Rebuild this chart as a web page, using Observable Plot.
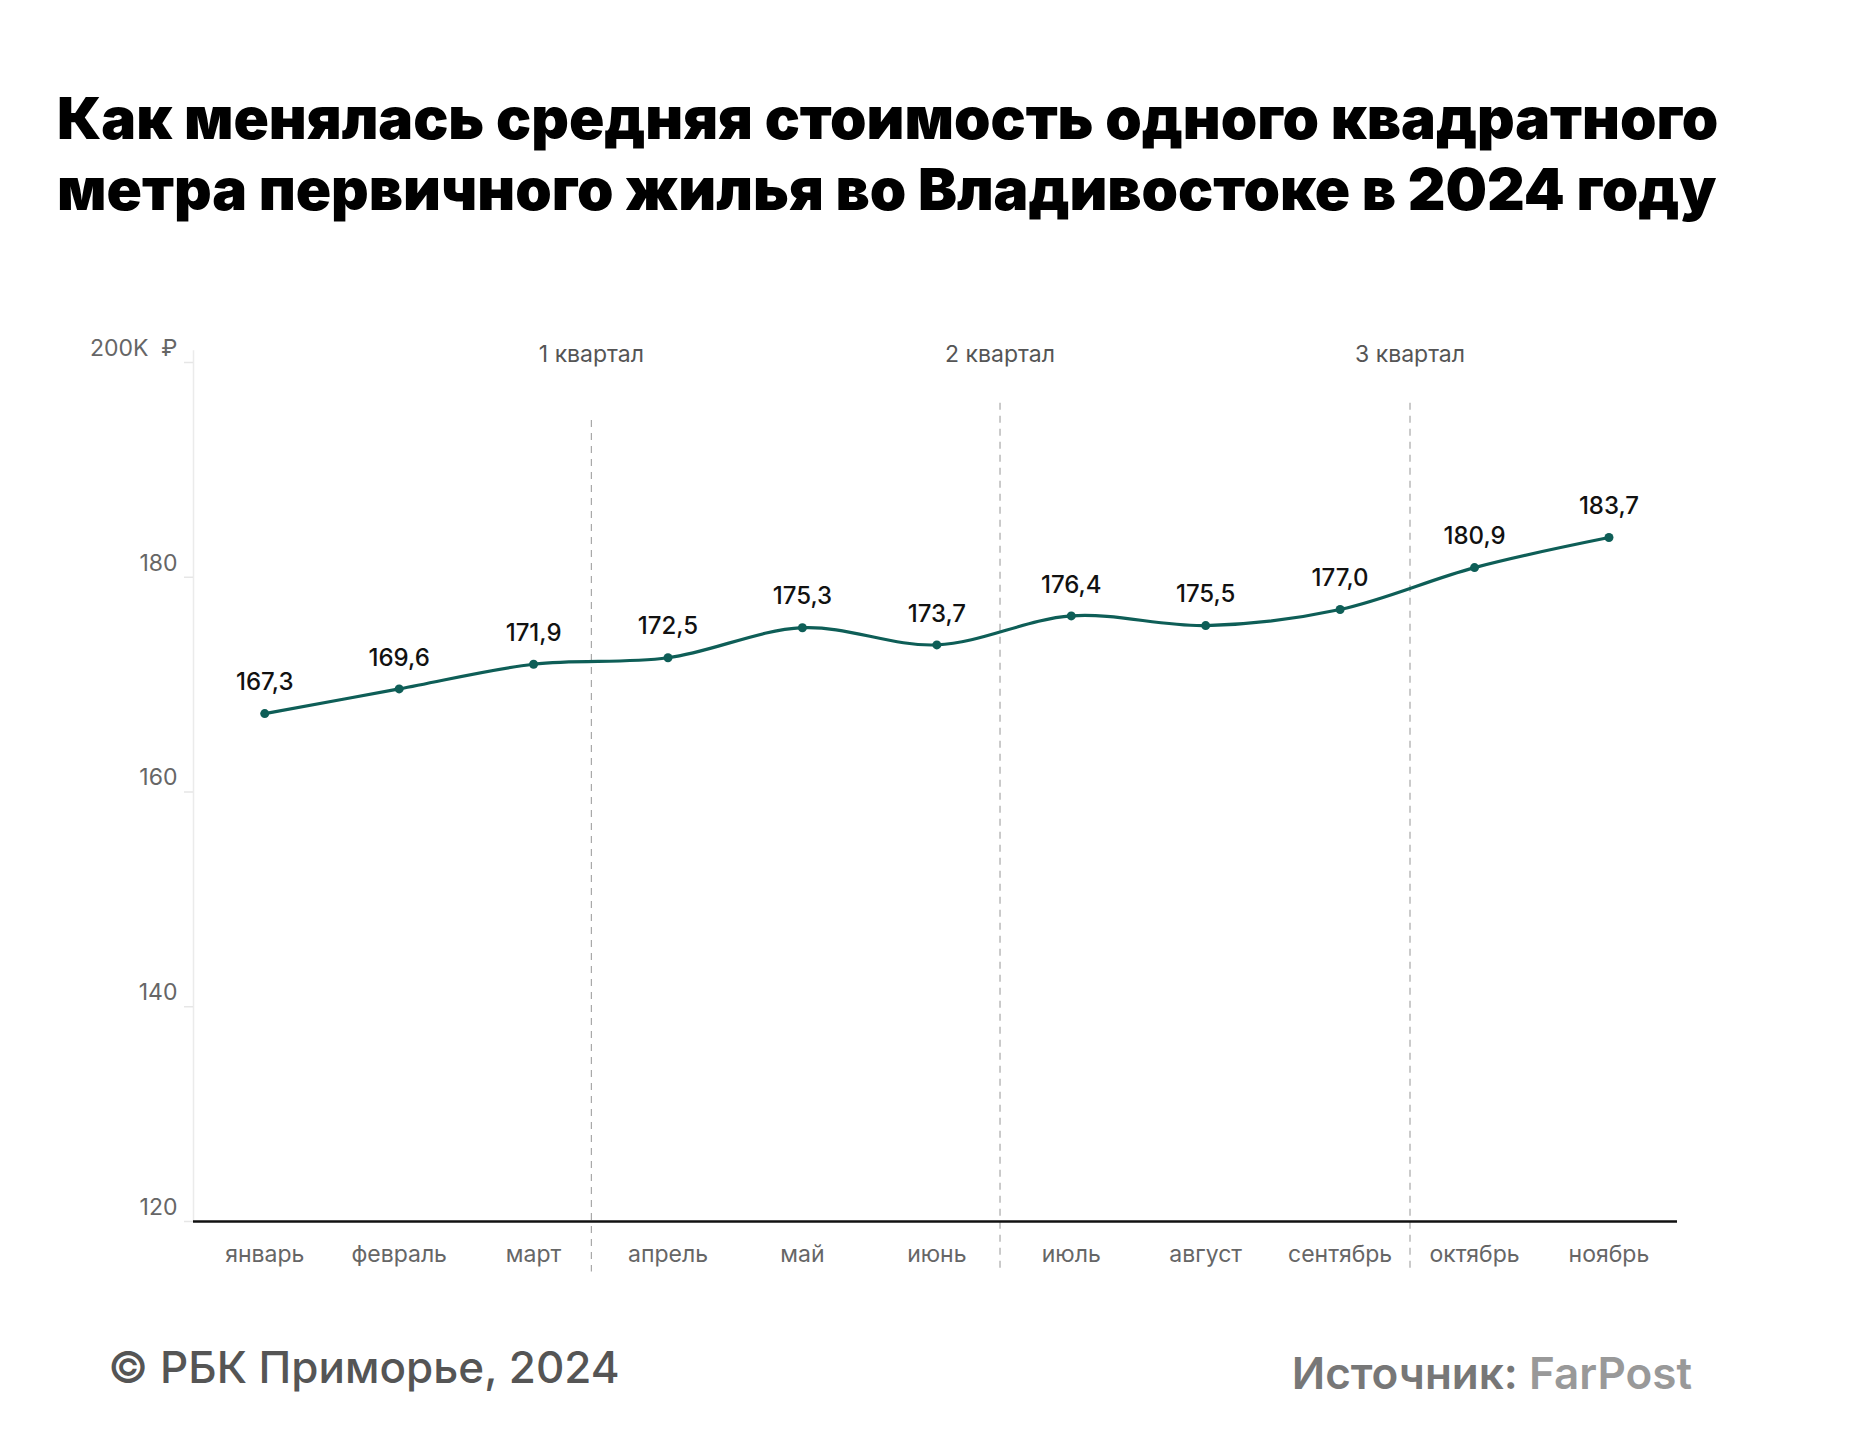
<!DOCTYPE html>
<html>
<head>
<meta charset="utf-8">
<script src="https://cdn.jsdelivr.net/npm/d3@7"></script>
<script src="https://cdn.jsdelivr.net/npm/@observablehq/plot@0.6"></script>
<style>
  html, body { margin: 0; padding: 0; background: #fff; }
  body { width: 1853px; height: 1456px; position: relative; font-family: Inter, "Noto Sans", sans-serif; }
  #title { position: absolute; left: 57px; top: 82px; margin: 0; font-size: 58.4px; line-height: 71px; font-weight: 900; color: #000; letter-spacing: 0px; white-space: nowrap; }
  #chart { position: absolute; left: 0; top: 280px; }
  #credit { position: absolute; left: 108px; top: 1341px; font-size: 44px; line-height: 52px; font-weight: 500; color: #555; }
  #source { position: absolute; right: 161px; top: 1347px; font-size: 44px; line-height: 52px; font-weight: 600; color: #777; }
  #source span { color: #999; }
</style>
</head>
<body>
<div id="title">Как менялась средняя стоимость одного квадратного<br>метра первичного жилья во Владивостоке в 2024 году</div>
<div id="chart"></div>
<div id="credit">© РБК Приморье, 2024</div>
<div id="source">Источник: <span>FarPost</span></div>
<script>
const months = ["январь","февраль","март","апрель","май","июнь","июль","август","сентябрь","октябрь","ноябрь"];
const values = [167.3, 169.6, 171.9, 172.5, 175.3, 173.7, 176.4, 175.5, 177.0, 180.9, 183.7];
const yTicks = [120, 140, 160, 180, 200];
const quarterLabels = ["1 квартал", "2 квартал", "3 квартал"];
const quarterBounds = [2.43, 5.47, 8.52];

const data = months.map((m, i) => ({i, m, v: values[i]}));
const idx = months.map((_, i) => i);
const quarters = quarterLabels.map((q, i) => ({q, b: quarterBounds[i], top: i === 0 ? 194.6 : 196.2}));
const teal = "#0e5e57";
const fmtY = d => d === 200 ? "200K  ₽" : String(d);

const chart = Plot.plot({
  width: 1853,
  height: 1020,
  marginTop: 82,
  marginBottom: 79,
  marginLeft: 193,
  marginRight: 176,
  style: {fontFamily: "Inter, 'Noto Sans', sans-serif", background: "#fff", overflow: "visible"},
  x: {type: "linear", domain: [-0.53, 10.51], axis: null},
  y: {domain: [120, 200], axis: null},
  marks: [
    Plot.ruleX([-0.53], {y1: 120, y2: 201.1, stroke: "#ebebeb", strokeWidth: 1.5}),
    Plot.axisY({ticks: yTicks, tickSize: 9, tickFormat: () => "", stroke: "#e6e6e6", strokeWidth: 1.5}),
    Plot.text(yTicks, {x: -0.53, y: d => d, text: fmtY, dx: -16, dy: -14, textAnchor: "end", fontSize: 23, fill: "#666"}),
    Plot.ruleX(quarters, {x: "b", y1: "top", y2: 115.3, stroke: "#a8a8a8", strokeWidth: 1.2, strokeDasharray: "7,6"}),
    Plot.text(quarters, {x: "b", y: 200, text: "q", dy: -8, fontSize: 23, fill: "#555"}),
    Plot.ruleY([120], {stroke: "#111", strokeWidth: 2.5}),
    Plot.axisX({ticks: idx, tickFormat: i => months[i], tickSize: 0, tickPadding: 24, fontSize: 23, fill: "#666"}),
    Plot.line(data, {x: "i", y: "v", curve: "catmull-rom", stroke: teal, strokeWidth: 3.2}),
    Plot.dot(data, {x: "i", y: "v", r: 4.5, fill: teal}),
    Plot.text(data, {x: "i", y: "v", text: d => d.v.toFixed(1).replace(".", ","), dy: -31, fontSize: 24, fontWeight: 500, fill: "#111"})
  ]
});
document.getElementById("chart").appendChild(chart);
</script>
</body>
</html>
